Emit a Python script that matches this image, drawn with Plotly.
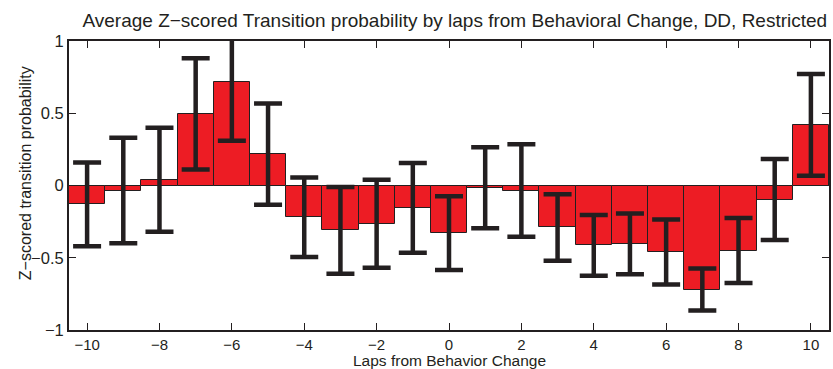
import plotly.graph_objects as go

# Laps relative to the behavioural change
laps = list(range(-10, 11))

# Mean z-scored transition probability per lap
mean_z = [-0.13, -0.035, 0.04, 0.495, 0.715, 0.217, -0.22, -0.31, -0.265, -0.155,
          -0.33, -0.016, -0.035, -0.29, -0.415, -0.404, -0.46, -0.72, -0.45, -0.097, 0.42]

# Error bar half-lengths
err_z = [0.29, 0.365, 0.36, 0.385, 0.405, 0.35, 0.275, 0.30, 0.305, 0.31,
         0.255, 0.28, 0.32, 0.23, 0.21, 0.21, 0.225, 0.145, 0.225, 0.28, 0.352]

x_ticks = [-10, -8, -6, -4, -2, 0, 2, 4, 6, 8, 10]
y_ticks = [-1, -0.5, 0, 0.5, 1]
y_tick_text = ["\u22121", "\u22120.5", "0", "0.5", "1"]
x_tick_text = [str(v).replace("-", "\u2212") for v in x_ticks]

ink = "#231f20"
font = "Liberation Sans, Arial, sans-serif"

fig = go.Figure(
    go.Bar(
        x=laps,
        y=mean_z,
        width=1.0,
        marker=dict(color="#ed1c24", line=dict(color=ink, width=1)),
        error_y=dict(type="data", array=err_z, visible=True,
                     color=ink, thickness=4.5, width=14),
    )
)

fig.update_layout(
    width=833,
    height=369,
    margin=dict(l=69, r=4, t=41, b=39, autoexpand=False),
    paper_bgcolor="white",
    plot_bgcolor="white",
    showlegend=False,
    font=dict(family=font, color=ink, size=16),
    title=dict(
        text="Average Z\u2212scored Transition probability by laps from Behavioral Change, DD, Restricted",
        x=0.546, xanchor="center", y=0.945, yanchor="middle",
        font=dict(size=19, family=font, color=ink),
    ),
    bargap=0,
    annotations=[
        # axis titles placed as annotations so they sit just below / left of the tick labels
        dict(text="Laps from Behavior Change", xref="paper", yref="paper",
             x=0.5, y=-0.107, xanchor="center", yanchor="middle",
             showarrow=False, font=dict(size=15.5, family=font, color=ink)),
        dict(text="Z\u2212scored transition probability", xref="paper", yref="paper",
             x=-0.057, y=0.5415, xanchor="center", yanchor="middle", textangle=-90,
             showarrow=False, font=dict(size=16, family=font, color=ink)),
    ],
)

fig.update_xaxes(
    range=[-10.5, 10.5],
    tickvals=x_ticks,
    ticktext=x_tick_text,
    ticks="inside",
    ticklen=7,
    tickwidth=1,
    tickcolor=ink,
    showline=True,
    linecolor=ink,
    linewidth=2,
    mirror="allticks",
    showgrid=False,
    zeroline=False,
    automargin=False,
    tickfont=dict(size=15),
)

fig.update_yaxes(
    range=[-1, 1],
    tickvals=y_ticks,
    ticktext=y_tick_text,
    ticks="inside",
    ticklen=7,
    tickwidth=1,
    tickcolor=ink,
    showline=True,
    linecolor=ink,
    linewidth=2,
    mirror="allticks",
    showgrid=False,
    zeroline=False,
    automargin=False,
    tickfont=dict(size=16.5),
)

fig.write_html("out.html")
